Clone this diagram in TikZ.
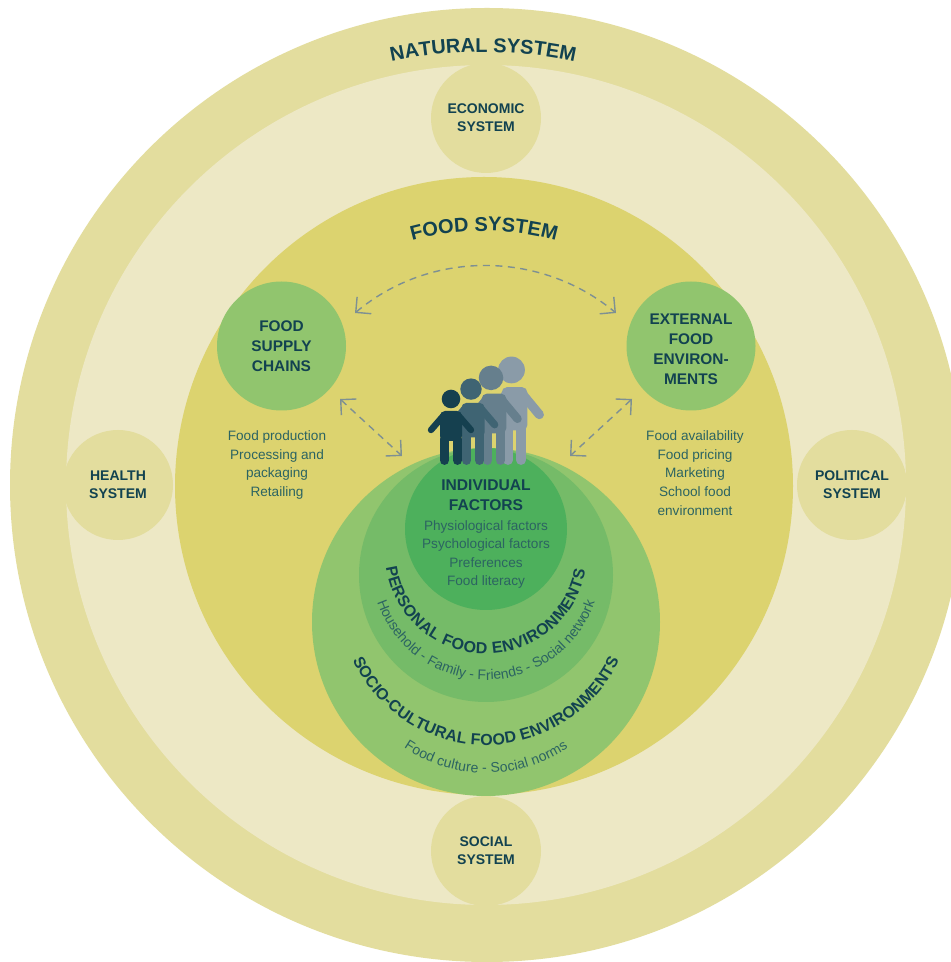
\documentclass[tikz,border=0pt]{standalone}
\usepackage{fontspec}
\setmainfont{Liberation Sans}
\usetikzlibrary{arrows.meta,decorations.text}
\definecolor{ringA}{HTML}{E3DD9E}
\definecolor{ringB}{HTML}{EDE8C5}
\definecolor{foodc}{HTML}{DCD36F}
\definecolor{greenA}{HTML}{91C56E}
\definecolor{greenB}{HTML}{75BB68}
\definecolor{greenC}{HTML}{4DB05C}
\definecolor{dk}{HTML}{124250}
\definecolor{mid}{HTML}{2C6462}
\definecolor{arrowc}{HTML}{7E9093}
\definecolor{pa}{HTML}{8A9BA8}
\definecolor{pb}{HTML}{667F8D}
\definecolor{pc}{HTML}{3F6473}
\definecolor{pd}{HTML}{15404F}
\newcommand\fh[1]{\fontsize{#1}{#1}\bfseries\selectfont}
\newcommand\fm[1]{\fontsize{#1}{#1}\selectfont}
% #1 body x, #2 height factor, #3 colour, #4 head x offset
\newcommand\persona[4]{%
  \begin{scope}[shift={(#1,497)}]
    \fill[#3] (#4,66*#2) circle[radius=9.3*#2];
    \fill[#3,rounded corners=5pt] ({-11-4*(#2-1)},24*#2) rectangle ({11+4*(#2-1)},54*#2);
    \draw[#3,line width=#2*6.4pt,line cap=round] (-7,50*#2) -- ({-20-11*(#2-1)},35*#2);
    \draw[#3,line width=#2*6.4pt,line cap=round] (7,50*#2) -- ({20+11*(#2-1)},35*#2);
    \draw[#3,line width=9.5pt,line cap=round] (-6.5,26*#2) -- (-6.5,4.8);
    \draw[#3,line width=9.5pt,line cap=round] (6.5,26*#2) -- (6.5,4.8);
  \end{scope}}
\tikzset{
  x=1pt,y=1pt,
  disc/.style={circle,inner sep=0pt,align=center,text=dk},
  sysdisc/.style={disc,fill=ringA,minimum size=110pt,font=\fh{14}},
  greendisc/.style={disc,fill=greenA,minimum size=129pt,font=\fh{15.4}},
  listing/.style={align=center,text=mid,inner sep=0pt,font=\fm{13.6}},
  dasharrow/.style={draw=arrowc,line width=1.4pt,dash pattern=on 7pt off 5.5pt,
    {Straight Barb[length=11pt,width=22pt,line width=1.4pt]}-{Straight Barb[length=11pt,width=22pt,line width=1.4pt]}},
  arcbase/.style={decorate,decoration={text along path,text align=center,text color=dk}},
  arcfit/.style={decorate,decoration={text along path,text align={fit to path},text color=dk}}
}
\begin{document}
\begin{tikzpicture}
\useasboundingbox (0,0) rectangle (951,962);
\clip (0,0) rectangle (951,962);
\fill[white] (0,0) rectangle (951,962);
\fill[ringA] (487,477) circle[radius=477];
\fill[ringB] (486,477) circle[radius=420];
\fill[foodc] (484,476) circle[radius=309];
\node[sysdisc] (econ) at (486,844) {ECONOMIC\\[4pt]SYSTEM};
\node[sysdisc] (social) at (486,111) {SOCIAL\\[4pt]SYSTEM};
\node[sysdisc] (health) at (118,477) {HEALTH\\[4pt]SYSTEM};
\node[sysdisc] (politic) at (852,477) {POLITICAL\\[4pt]SYSTEM};
\node[greendisc] (chains) at (281.5,616) {FOOD\\[4.6pt]SUPPLY\\[4.6pt]CHAINS};
\node[greendisc] (extern) at (691,616) {};
\node[align=center,text=dk,inner sep=0pt,font=\fh{15.4}] (externlabel) at (691,613) {EXTERNAL\\[4.6pt]FOOD\\[4.6pt]ENVIRON-\\[4.6pt]MENTS};
\node[disc,fill=greenA,minimum size=348pt] (socio) at (486,340) {};
\node[disc,fill=greenB,minimum size=254pt] (personal) at (486,387) {};
\node[disc,fill=greenC,minimum size=162pt] (indiv) at (486,433) {};
\path[arcbase,decoration={text={|\fh{20}|NATURAL SYSTEM}}] (483,477) ++(130:433) arc[start angle=130,end angle=50,radius=433];
\path[arcbase,decoration={text={|\fh{20}|FOOD SYSTEM}}] (484,460) ++(140:271) arc[start angle=140,end angle=40,radius=271];
\path[arcfit,decoration={text={|\fh{16}|PERSONAL FOOD ENVIRONMENTS}}] (486,409) ++(188:101) arc[start angle=188,end angle=350,radius=101];
\path[arcfit,decoration={text color=mid,text={|\fm{14}|Household - Family - Friends - Social network}}] (486,397) ++(199:115) arc[start angle=199,end angle=341,radius=115];
\path[arcfit,decoration={text={|\fh{16}|SOCIO-CULTURAL FOOD ENVIRONMENTS}}] (486,364) ++(205:147) arc[start angle=205,end angle=335,radius=147];
\path[arcfit,decoration={text color=mid,text={|\fm{14}|Food culture - Social norms}}] (486,336) ++(236:147) arc[start angle=236,end angle=304,radius=147];
\persona{514.5}{1.44}{pa}{-3}
\persona{494}{1.32}{pb}{-3}
\persona{473}{1.15}{pc}{-2}
\persona{451}{1}{pd}{0}
\node[listing] (prod) at (277,497) {Food production\\[5pt]Processing and\\[5pt]packaging\\[5pt]Retailing};
\node[listing] (avail) at (695,489) {Food availability\\[5pt]Food pricing\\[5pt]Marketing\\[5pt]School food\\[5pt]environment};
\node[align=center,text=dk,inner sep=0pt,font=\fh{15.6}] (ftitle) at (486,467) {INDIVIDUAL\\[4.5pt]FACTORS};
\node[listing] (flist) at (486,407.5) {Physiological factors\\[5pt]Psychological factors\\[5pt]Preferences\\[5pt]Food literacy};
\coordinate (a1) at (355,649);
\coordinate (a2) at (616,649);
\coordinate (b1) at (340,563);
\coordinate (b2) at (402,506);
\coordinate (c1) at (632,563);
\coordinate (c2) at (570,506);
\draw[dasharrow] (a1) .. controls (430,712) and (540,712) .. (a2);
\draw[dasharrow] (b1) -- (b2);
\draw[dasharrow] (c1) -- (c2);
\end{tikzpicture}
\end{document}
